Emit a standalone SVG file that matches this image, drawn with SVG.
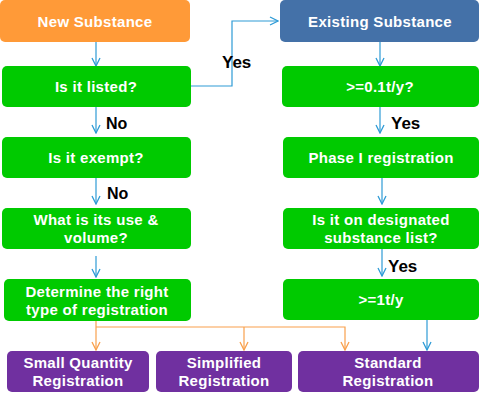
<svg xmlns="http://www.w3.org/2000/svg" width="479" height="400" viewBox="0 0 479 400">
<defs>
<marker id="ab" viewBox="0 0 10 10" refX="9" refY="5" markerWidth="10" markerHeight="10" markerUnits="userSpaceOnUse" orient="auto"><path d="M1,1 L9,5 L1,9" fill="none" stroke="#2E9BD6" stroke-width="1.3"/></marker>
<marker id="ao" viewBox="0 0 10 10" refX="9" refY="5" markerWidth="10" markerHeight="10" markerUnits="userSpaceOnUse" orient="auto"><path d="M1,1 L9,5 L1,9" fill="none" stroke="#F9A04C" stroke-width="1.3"/></marker>
</defs>
<style>
.t{font-family:"Liberation Sans",Arial,sans-serif;font-weight:bold;font-size:15px;letter-spacing:0.3px;fill:#fff;text-anchor:middle}
.l{font-family:"Liberation Sans",Arial,sans-serif;font-weight:bold;font-size:17px;fill:#000}
.g{fill:#00CA00}
.p{fill:#7030A0}
.cb{fill:none;stroke:#2E9BD6;stroke-width:1.2}
.co{fill:none;stroke:#F9A04C;stroke-width:1.2}
</style>
<g id="connectors">
<line class="cb" x1="96" y1="42" x2="96" y2="66" marker-end="url(#ab)"/>
<polyline class="cb" points="191,86 232,86 232,21 278,21" marker-end="url(#ab)"/>
<line class="cb" x1="380" y1="42" x2="380" y2="66" marker-end="url(#ab)"/>
<line class="cb" x1="96" y1="107" x2="96" y2="133" marker-end="url(#ab)"/>
<line class="cb" x1="380" y1="107" x2="380" y2="133" marker-end="url(#ab)"/>
<line class="cb" x1="96" y1="178" x2="96" y2="204" marker-end="url(#ab)"/>
<line class="cb" x1="382" y1="178" x2="382" y2="204" marker-end="url(#ab)"/>
<line class="cb" x1="96" y1="256" x2="96" y2="277" marker-end="url(#ab)"/>
<line class="cb" x1="382" y1="249" x2="382" y2="276" marker-end="url(#ab)"/>
<line class="cb" x1="427" y1="320" x2="427" y2="350" marker-end="url(#ab)"/>
<line class="co" x1="96" y1="321" x2="96" y2="350" marker-end="url(#ao)"/>
<polyline class="co" points="96,327 345,327 345,350" marker-end="url(#ao)"/>
<line class="co" x1="244" y1="327" x2="244" y2="350" marker-end="url(#ao)"/>
<text class="l" x="222" y="68">Yes</text>
<text class="l" x="106" y="129" style="font-size:16px">No</text>
<text class="l" x="391" y="129">Yes</text>
<text class="l" x="107" y="199" style="font-size:16px">No</text>
<text class="l" x="388" y="272">Yes</text>
</g>
<g id="new"><rect x="0" y="0" width="190" height="42" rx="5" fill="#FF9A38"/><text class="t" x="95" y="27">New Substance</text></g>
<g id="existing"><rect x="280" y="0" width="199" height="42" rx="5" fill="#4471A8"/><text class="t" x="380" y="27">Existing Substance</text></g>
<g id="listed"><rect class="g" x="2" y="66" width="189" height="41" rx="5"/><text class="t" x="96" y="92">Is it listed?</text></g>
<g id="tonnage01"><rect class="g" x="282" y="66" width="197" height="41" rx="5"/><text class="t" x="380" y="92">&gt;=0.1t/y?</text></g>
<g id="exempt"><rect class="g" x="2" y="137" width="189" height="41" rx="5"/><text class="t" x="96" y="163">Is it exempt?</text></g>
<g id="phase1"><rect class="g" x="283" y="137" width="196" height="41" rx="5"/><text class="t" x="381" y="163">Phase I registration</text></g>
<g id="use"><rect class="g" x="2" y="208" width="189" height="41" rx="5"/><text class="t" x="96" y="225">What is its use &amp;</text><text class="t" x="96" y="243">volume?</text></g>
<g id="designated"><rect class="g" x="283" y="208" width="196" height="41" rx="5"/><text class="t" x="381" y="225">Is it on designated</text><text class="t" x="381" y="243">substance list?</text></g>
<g id="determine"><rect class="g" x="4" y="279" width="187" height="42" rx="5"/><text class="t" x="97" y="297">Determine the right</text><text class="t" x="97" y="315">type of registration</text></g>
<g id="tonnage1"><rect class="g" x="283" y="279" width="196" height="41" rx="5"/><text class="t" x="381" y="305">&gt;=1t/y</text></g>
<g id="small"><rect class="p" x="7" y="351" width="142" height="41" rx="5"/><text class="t" x="78" y="368">Small Quantity</text><text class="t" x="78" y="386">Registration</text></g>
<g id="simplified"><rect class="p" x="156" y="351" width="136" height="41" rx="5"/><text class="t" x="224" y="368">Simplified</text><text class="t" x="224" y="386">Registration</text></g>
<g id="standard"><rect class="p" x="298" y="351" width="181" height="41" rx="5"/><text class="t" x="388" y="368">Standard</text><text class="t" x="388" y="386">Registration</text></g>
</svg>
